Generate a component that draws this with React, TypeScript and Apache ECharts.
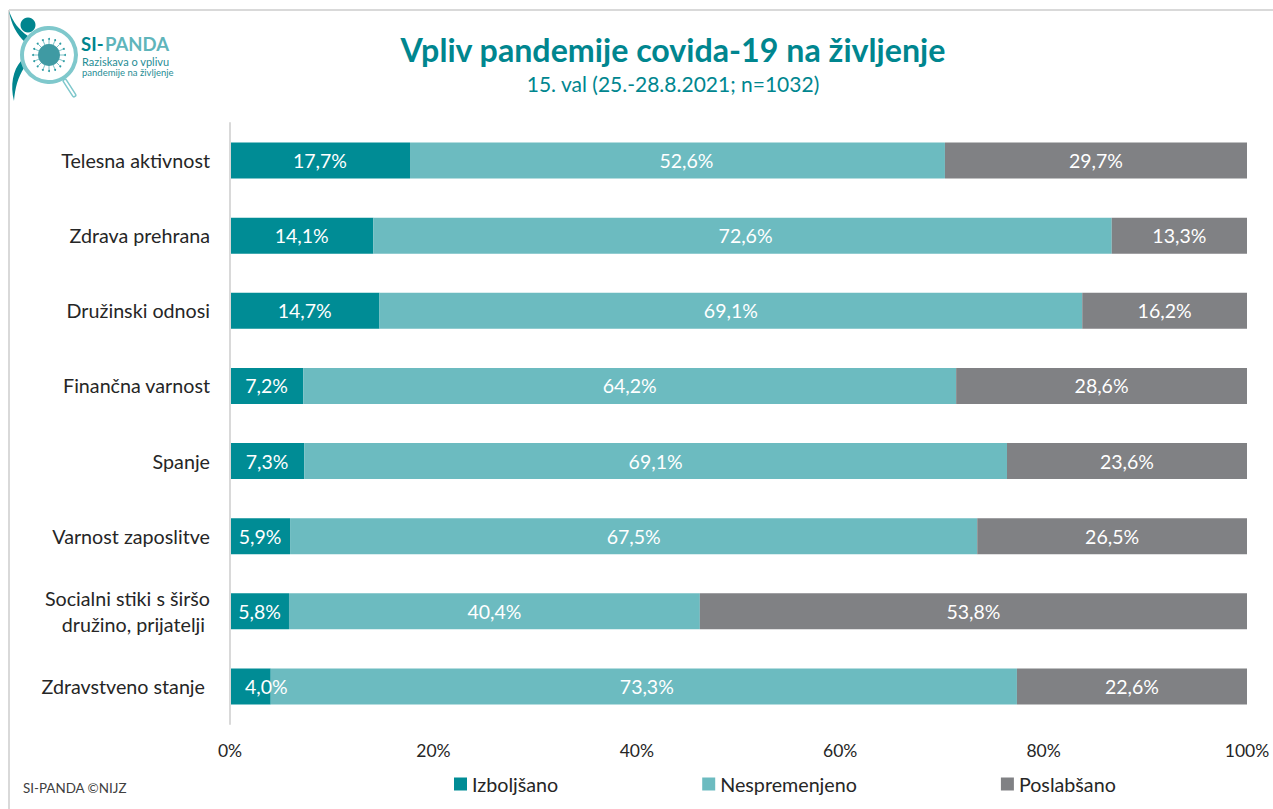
import React, { useEffect, useRef } from "react";
import * as echarts from "echarts";

const categories = [
  "Telesna aktivnost",
  "Zdrava prehrana",
  "Družinski odnosi",
  "Finančna varnost",
  "Spanje",
  "Varnost zaposlitve",
  "Socialni stiki s širšo\ndružino, prijatelji",
  "Zdravstveno stanje",
];
const improved = [17.7, 14.1, 14.7, 7.2, 7.3, 5.9, 5.8, 4.0];
const unchanged = [52.6, 72.6, 69.1, 64.2, 69.1, 67.5, 40.4, 73.3];
const worsened = [29.7, 13.3, 16.2, 28.6, 23.6, 26.5, 53.8, 22.6];
const seriesNames = ["Izboljšano", "Nespremenjeno", "Poslabšano"];
const seriesColors = ["#008c95", "#6cbbc0", "#808184"];
// Hand-placed data labels in the source chart: [series, row, shift in px]
const labelShifts: [number, number, number][] = [
  [1, 0, 9],
  [1, 1, 3],
  [1, 7, 3],
  [0, 7, 16],
];

const FONT = "Lato";
const TEAL = "#00868f";

echarts.graphic.registerShape(
  "siArm",
  echarts.graphic.extendPath("M9 11 C11 24 17 35 25 42 L28 36 C19 30 13 22 9 11 Z", {}) as any
);
echarts.graphic.registerShape(
  "siLeg",
  echarts.graphic.extendPath("M21 61 C13 70 10 85 14 101 C15 88 18 77 24 68 Z", {}) as any
);

function makeLogo(): any[] {
  const cx = 49;
  const cy = 55;
  const dots: any[] = [];
  for (let i = 0; i < 16; i++) {
    const a = (i / 16) * Math.PI * 2;
    dots.push({
      type: "line",
      shape: {
        x1: cx + Math.cos(a) * 10,
        y1: cy + Math.sin(a) * 10,
        x2: cx + Math.cos(a) * 15,
        y2: cy + Math.sin(a) * 15,
      },
      style: { stroke: "#5bb3b9", lineWidth: 0.8 },
    });
    dots.push({
      type: "circle",
      shape: { cx: cx + Math.cos(a) * 16, cy: cy + Math.sin(a) * 16, r: 1 },
      style: { fill: "#2a9aa2" },
    });
  }
  return [
    { type: "line", shape: { x1: 9, y1: 10, x2: 1273, y2: 10 }, style: { stroke: "#d9d9d9", lineWidth: 2 } },
    { type: "line", shape: { x1: 9, y1: 10, x2: 9, y2: 809 }, style: { stroke: "#d9d9d9", lineWidth: 2 } },
    { type: "circle", shape: { cx: 28, cy: 25, r: 7.5 }, style: { fill: "#00858e" } },
    { type: "siArm", style: { fill: "#00858e" } },
    { type: "siLeg", style: { fill: "#00858e" } },
    { type: "circle", shape: { cx, cy, r: 27 }, style: { fill: "#fff", stroke: "#7fc8cc", lineWidth: 4 } },
    {
      type: "line",
      shape: { x1: 65, y1: 81, x2: 74, y2: 95 },
      style: { stroke: "#7fc8cc", lineWidth: 5, lineCap: "round" },
    },
    {
      type: "line",
      shape: { x1: 65, y1: 81, x2: 74, y2: 95 },
      style: { stroke: "#fff", lineWidth: 2, lineCap: "round" },
    },
    ...dots,
    { type: "circle", shape: { cx, cy, r: 11 }, style: { fill: "#3f9aa3" } },
    {
      type: "text",
      x: 81,
      y: 34,
      style: { text: "SI-", fill: "#00858e", font: `bold 18.5px ${FONT}` },
    },
    {
      type: "text",
      x: 105,
      y: 34,
      style: { text: "PANDA", fill: "#5fb5bb", font: `bold 18.5px ${FONT}` },
    },
    {
      type: "text",
      x: 82,
      y: 56,
      style: { text: "Raziskava o vplivu", fill: "#1f8d95", font: `11px ${FONT}` },
    },
    {
      type: "text",
      x: 82,
      y: 67,
      style: { text: "pandemije na življenje", fill: "#1f8d95", font: `9.5px ${FONT}` },
    },
    {
      type: "text",
      x: 23,
      y: 781,
      style: { text: "SI-PANDA ©NIJZ", fill: "#404040", font: `13.4px ${FONT}` },
    },
  ];
}

export default function App() {
  const ref = useRef<HTMLDivElement>(null);
  useEffect(() => {
    document.body.style.margin = "0";
    const chart = echarts.init(ref.current!, undefined, { renderer: "svg" });
    const values = [improved, unchanged, worsened];
    const totals = categories.map((_, r) => improved[r] + unchanged[r] + worsened[r]);
    chart.setOption({
      animation: false,
      backgroundColor: "#fff",
      textStyle: { fontFamily: FONT },
      title: {
        text: "Vpliv pandemije covida-19 na življenje",
        subtext: "15. val (25.-28.8.2021; n=1032)",
        left: 668,
        top: 28,
        textAlign: "center",
        itemGap: 8,
        textStyle: { color: TEAL, fontFamily: FONT, fontWeight: "bold", fontSize: 32.2 },
        subtextStyle: { color: TEAL, fontFamily: FONT, fontSize: 21 },
      },
      grid: { left: 230, right: 26, top: 123, bottom: 85 },
      legend: {
        left: 449,
        top: 769,
        itemWidth: 13,
        itemHeight: 13,
        itemGap: 144,
        icon: "rect",
        data: seriesNames,
        textStyle: { fontFamily: FONT, fontSize: 19.7, color: "#262626" },
      },
      xAxis: {
        type: "value",
        min: 0,
        max: 100,
        interval: 20,
        splitLine: { show: false },
        axisLine: { show: false },
        axisTick: { show: false },
        axisLabel: {
          formatter: "{value}%",
          fontSize: 17.5,
          color: "#262626",
          fontFamily: FONT,
          margin: 17,
        },
      },
      yAxis: {
        type: "category",
        inverse: true,
        z: 5,
        data: categories,
        axisTick: { show: false },
        axisLine: { show: true, lineStyle: { color: "#d9d9d9", width: 2 } },
        axisLabel: {
          fontSize: 19.7,
          color: "#262626",
          fontFamily: FONT,
          margin: 20,
          lineHeight: 26,
          align: "right",
          formatter: (v: string) => {
            if (v === "Zdravstveno stanje") return `{s|${v}}`;
            const lines = v.split("\n");
            return lines.length > 1 ? `${lines[0]}\n{s|${lines[1]}}` : v;
          },
          rich: {
            s: { fontSize: 19.7, lineHeight: 26, color: "#262626", fontFamily: FONT, padding: [0, 5, 0, 0] },
          },
        },
      },
      series: seriesNames.map((name, i) => ({
        name,
        type: "bar",
        stack: "total",
        barWidth: 36,
        data: values[i].map((v, r) => {
          const shift = labelShifts.find((s) => s[0] === i && s[1] === r);
          const share = (v / totals[r]) * 100;
          return shift ? { value: share, label: { offset: [shift[2], 0] } } : share;
        }),
        itemStyle: { color: seriesColors[i] },
        label: {
          show: true,
          position: "inside",
          color: "#fff",
          fontSize: 19.5,
          fontFamily: FONT,
          formatter: (p: any) => values[i][p.dataIndex].toFixed(1).replace(".", ",") + "%",
        },
      })),
      graphic: makeLogo(),
    });
    return () => chart.dispose();
  }, []);
  return <div ref={ref} style={{ width: 1273, height: 809 }} />;
}
